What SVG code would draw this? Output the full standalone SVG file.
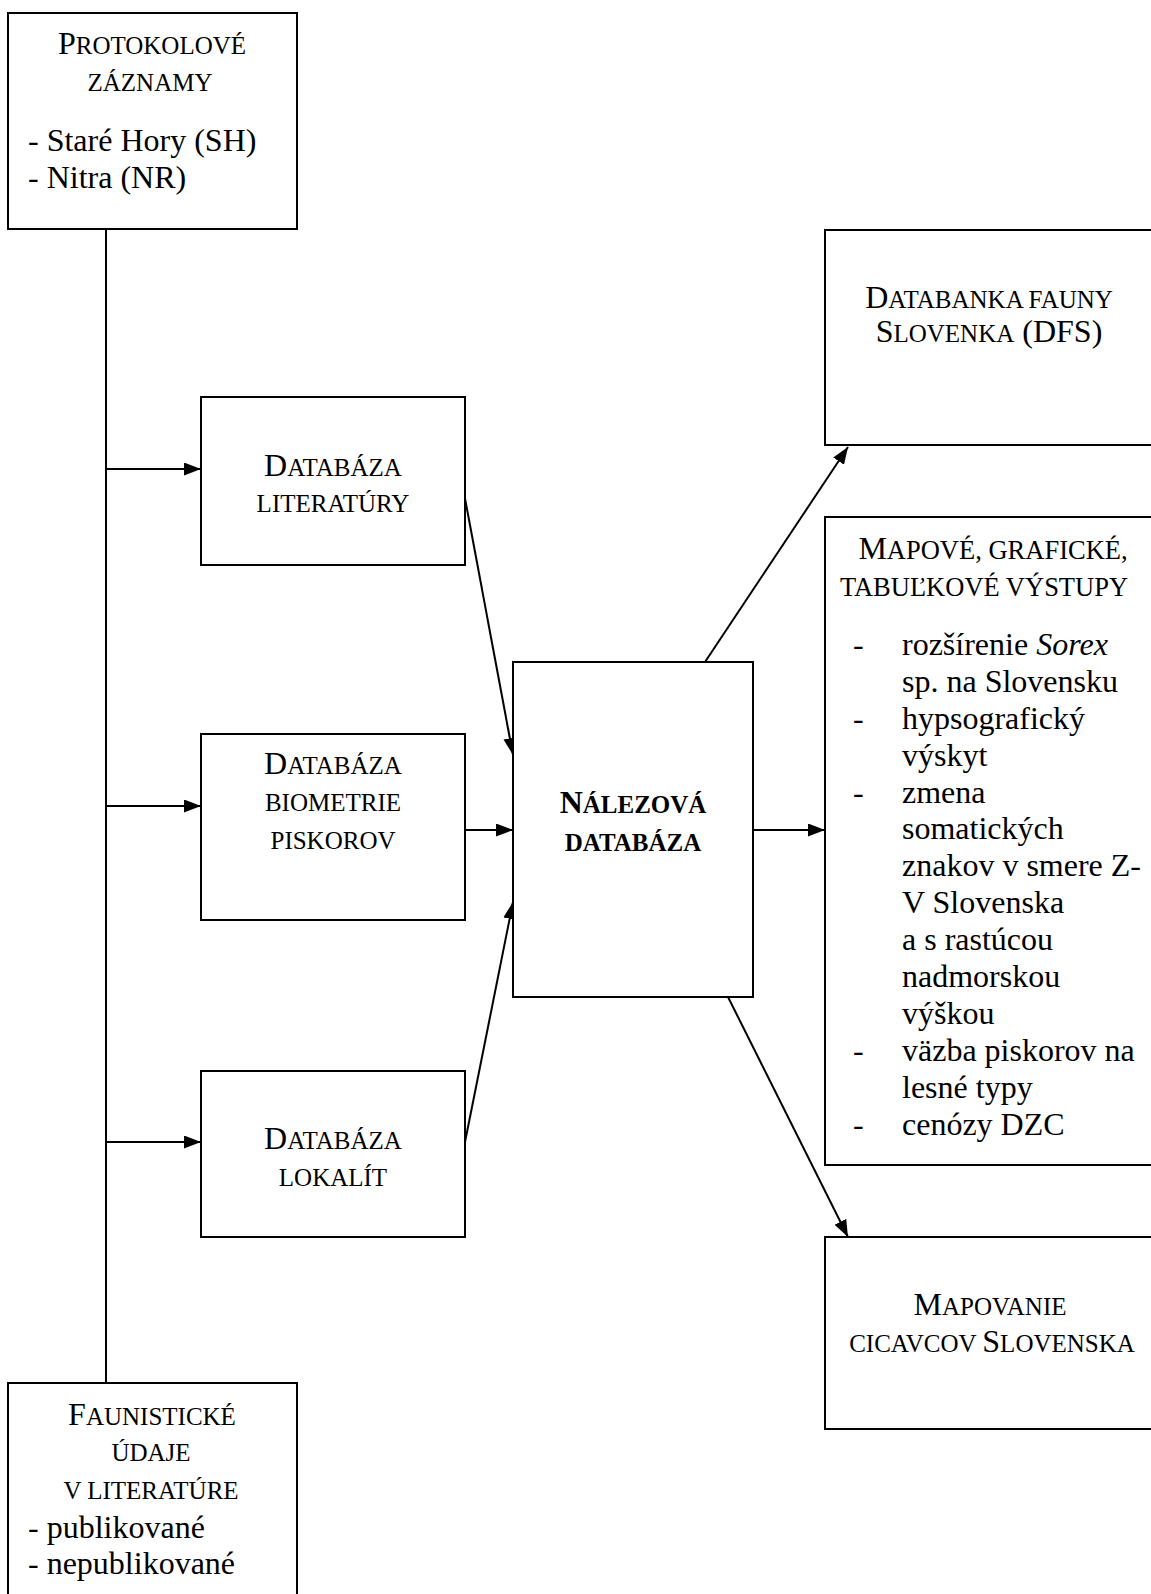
<svg xmlns="http://www.w3.org/2000/svg" width="1151" height="1594" viewBox="0 0 1151 1594">
<style>
  .box { fill: #fff; stroke: #000; stroke-width: 2; }
  .t { font-family: "Liberation Serif", "Times New Roman", serif; font-size: 32px; fill: #000; }
  .c { text-anchor: middle; }
  .sc { font-size: 25px; }
  .sc2 { font-size: 26.5px; }
  .b { font-weight: bold; }
  .ln { stroke: #000; stroke-width: 2; fill: none; }
  .ar { marker-end: url(#ah); }
</style>
<defs>
  <marker id="ah" markerUnits="userSpaceOnUse" markerWidth="20" markerHeight="14" refX="17" refY="6.5" orient="auto">
    <path d="M0,0 L17,6.5 L0,13 z" fill="#000"/>
  </marker>
</defs>
<rect width="1151" height="1594" fill="#fff"/>

<g id="connectors">
  <line class="ln" x1="106" y1="229" x2="106" y2="1383"/>
  <line class="ln ar" x1="106" y1="469" x2="201" y2="469"/>
  <line class="ln ar" x1="106" y1="806" x2="201" y2="806"/>
  <line class="ln ar" x1="106" y1="1142" x2="201" y2="1142"/>
  <line class="ln ar" x1="464" y1="493" x2="513" y2="755"/>
  <line class="ln ar" x1="465" y1="830" x2="513" y2="830"/>
  <line class="ln ar" x1="465" y1="1142" x2="513" y2="902"/>
  <line class="ln ar" x1="705" y1="662" x2="848" y2="447"/>
  <line class="ln ar" x1="753" y1="830" x2="825" y2="830"/>
  <line class="ln ar" x1="728" y1="997" x2="848" y2="1237"/>
</g>

<g id="protokolove">
  <rect class="box" x="8" y="13" width="289" height="216"/>
  <text class="t c" x="152" y="54">P<tspan class="sc">ROTOKOLOVÉ</tspan></text>
  <text class="t c sc" x="150" y="91">ZÁZNAMY</text>
  <text class="t" x="28" y="151">- Staré Hory (SH)</text>
  <text class="t" x="28" y="188">- Nitra (NR)</text>
</g>

<g id="faunisticke">
  <rect class="box" x="8" y="1383" width="289" height="220"/>
  <text class="t c" x="152" y="1425">F<tspan class="sc">AUNISTICKÉ</tspan></text>
  <text class="t c sc" x="151" y="1461">ÚDAJE</text>
  <text class="t c sc" x="151" y="1499">V LITERATÚRE</text>
  <text class="t" x="28" y="1538">- publikované</text>
  <text class="t" x="28" y="1574">- nepublikované</text>
</g>

<g id="literatura">
  <rect class="box" x="201" y="397" width="264" height="168"/>
  <text class="t c" x="333" y="476">D<tspan class="sc">ATABÁZA</tspan></text>
  <text class="t c sc" x="333" y="512">LITERATÚRY</text>
</g>

<g id="biometria">
  <rect class="box" x="201" y="734" width="264" height="186"/>
  <text class="t c" x="333" y="774">D<tspan class="sc">ATABÁZA</tspan></text>
  <text class="t c sc" x="333" y="811">BIOMETRIE</text>
  <text class="t c sc" x="333" y="849">PISKOROV</text>
</g>

<g id="lokality">
  <rect class="box" x="201" y="1071" width="264" height="166"/>
  <text class="t c" x="333" y="1149">D<tspan class="sc">ATABÁZA</tspan></text>
  <text class="t c sc" x="333" y="1186">LOKALÍT</text>
</g>

<g id="nalezova">
  <rect class="box" x="513" y="662" width="240" height="335"/>
  <text class="t c b" x="633" y="813">N<tspan class="sc">ÁLEZOVÁ</tspan></text>
  <text class="t c b sc" x="633" y="851">DATABÁZA</text>
</g>

<g id="dfs">
  <rect class="box" x="825" y="230" width="340" height="215"/>
  <text class="t c" x="989" y="308">D<tspan class="sc">ATABANKA FAUNY</tspan></text>
  <text class="t c" x="989" y="342">S<tspan class="sc">LOVENKA</tspan> (DFS)</text>
</g>

<g id="vystupy">
  <rect class="box" x="825" y="517" width="340" height="648"/>
  <text class="t c" x="993" y="559">M<tspan class="sc2">APOVÉ, GRAFICKÉ,</tspan></text>
  <text class="t c sc2" x="984" y="596">TABUĽKOVÉ VÝSTUPY</text>
  <text class="t" x="853" y="655">-</text>
  <text class="t" x="902" y="655">rozšírenie <tspan font-style="italic">Sorex</tspan></text>
  <text class="t" x="902" y="692">sp. na Slovensku</text>
  <text class="t" x="853" y="729">-</text>
  <text class="t" x="902" y="729">hypsografický</text>
  <text class="t" x="902" y="766">výskyt</text>
  <text class="t" x="853" y="803">-</text>
  <text class="t" x="902" y="803">zmena</text>
  <text class="t" x="902" y="839">somatických</text>
  <text class="t" x="902" y="876">znakov v smere Z-</text>
  <text class="t" x="902" y="913">V Slovenska</text>
  <text class="t" x="902" y="950">a s rastúcou</text>
  <text class="t" x="902" y="987">nadmorskou</text>
  <text class="t" x="902" y="1024">výškou</text>
  <text class="t" x="853" y="1061">-</text>
  <text class="t" x="902" y="1061">väzba piskorov na</text>
  <text class="t" x="902" y="1098">lesné typy</text>
  <text class="t" x="853" y="1135">-</text>
  <text class="t" x="902" y="1135">cenózy DZC</text>
</g>

<g id="mapovanie">
  <rect class="box" x="825" y="1237" width="340" height="192"/>
  <text class="t c" x="990" y="1315">M<tspan class="sc">APOVANIE</tspan></text>
  <text class="t c" x="992" y="1352"><tspan class="sc">CICAVCOV </tspan>S<tspan class="sc">LOVENSKA</tspan></text>
</g>
</svg>
